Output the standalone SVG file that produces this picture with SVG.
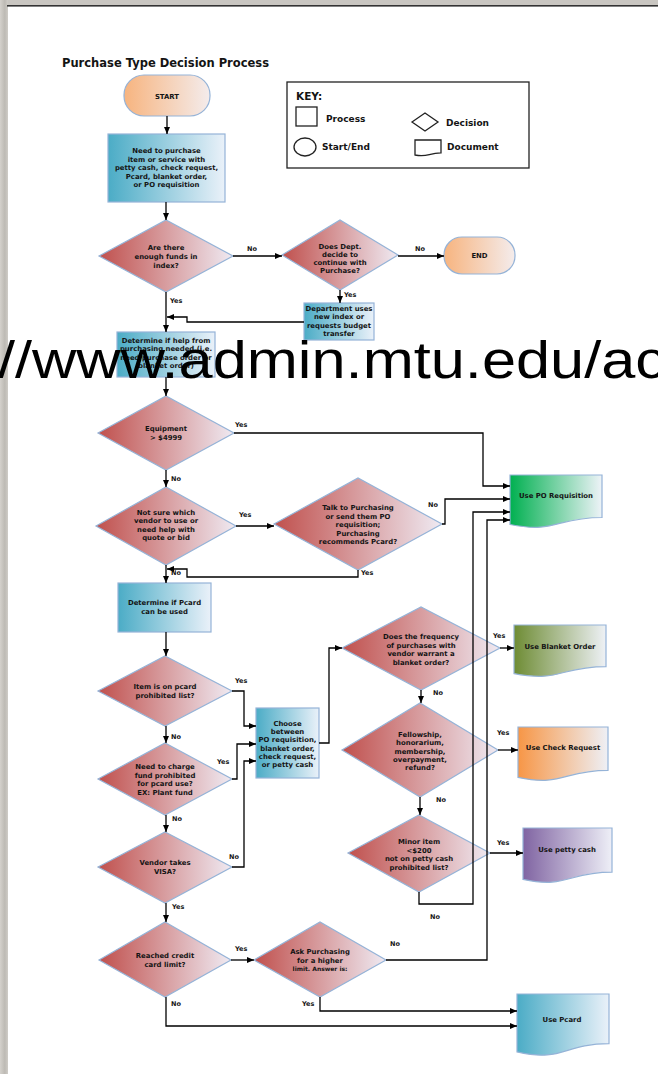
<svg xmlns="http://www.w3.org/2000/svg" width="658" height="1074" viewBox="0 0 658 1074">
<defs>
<linearGradient id="gDia" x1="0" y1="0" x2="1" y2="0"><stop offset="0" stop-color="#c0504d"/><stop offset="1" stop-color="#efeaf2"/></linearGradient>
<linearGradient id="gProc" x1="0" y1="0" x2="1" y2="0"><stop offset="0" stop-color="#4bacc6"/><stop offset="1" stop-color="#eaf1f9"/></linearGradient>
<linearGradient id="gTerm" x1="0" y1="0" x2="1" y2="0"><stop offset="0" stop-color="#f7b47f"/><stop offset="1" stop-color="#f4ecec"/></linearGradient>
<linearGradient id="gPO" x1="0" y1="0" x2="1" y2="0"><stop offset="0" stop-color="#00b050"/><stop offset="1" stop-color="#eef3f8"/></linearGradient>
<linearGradient id="gBlank" x1="0" y1="0" x2="1" y2="0"><stop offset="0" stop-color="#6e8c34"/><stop offset="1" stop-color="#eef1f6"/></linearGradient>
<linearGradient id="gCheck" x1="0" y1="0" x2="1" y2="0"><stop offset="0" stop-color="#f79646"/><stop offset="1" stop-color="#eef0f6"/></linearGradient>
<linearGradient id="gPetty" x1="0" y1="0" x2="1" y2="0"><stop offset="0" stop-color="#8064a2"/><stop offset="1" stop-color="#eeeff7"/></linearGradient>
<linearGradient id="gEdge" x1="0" y1="0" x2="1" y2="0"><stop offset="0" stop-color="#d4d1cc"/><stop offset="0.6" stop-color="#bdbab4"/><stop offset="1" stop-color="#cfccc7"/></linearGradient>
<marker id="arr" markerUnits="userSpaceOnUse" markerWidth="7" markerHeight="6" refX="7" refY="3" orient="auto"><path d="M0,0 L7,3 L0,6 Z" fill="#000"/></marker>
</defs>
<style>
.dia{fill:url(#gDia);stroke:#95b3d7;stroke-width:1.2}
.proc{fill:url(#gProc);stroke:#95b3d7;stroke-width:1.2}
.term{fill:url(#gTerm);stroke:#95b3d7;stroke-width:1.2}
.doc{stroke:#95b3d7;stroke-width:1.2}
.t{font-family:"DejaVu Sans",Verdana,sans-serif;font-weight:bold;font-size:6.9px;fill:#141414;text-anchor:middle}
.lb{font-family:"DejaVu Sans",Verdana,sans-serif;font-weight:bold;font-size:6.5px;fill:#141414}
.k{font-family:"DejaVu Sans",Verdana,sans-serif;font-weight:bold;font-size:9px;fill:#141414}
.conn path{fill:none;stroke:#000;stroke-width:1.3;marker-end:url(#arr)}
.ico{fill:#fff;stroke:#222;stroke-width:1.3}
</style>
<rect x="0" y="0" width="658" height="1074" fill="#fff"/>
<rect x="0" y="0" width="658" height="5" fill="#c9c6c1"/>
<rect x="0" y="0" width="8" height="1074" fill="url(#gEdge)"/>
<rect x="7" y="5" width="651" height="1.6" fill="#333"/>

<text x="62" y="67" style="font-family:'DejaVu Sans',Verdana,sans-serif;font-weight:bold;font-size:11.5px;fill:#141414">Purchase Type Decision Process</text>

<g id="key">
<rect x="287" y="82" width="242" height="86" class="ico"/>
<text x="296" y="100" class="k" style="font-size:10.5px">KEY:</text>
<rect x="296" y="107" width="21" height="19" class="ico"/>
<text x="326" y="122" class="k">Process</text>
<polygon points="412,122 425,113 438,122 425,131" class="ico"/>
<text x="446" y="126" class="k">Decision</text>
<ellipse cx="305" cy="147" rx="11" ry="9" class="ico"/>
<text x="322" y="150" class="k">Start/End</text>
<path d="M415,140 H441 V152.8 C428,152.8 428,157.7 415,155 Z" class="ico"/>
<text x="447" y="150" class="k">Document</text>
</g>

<g id="start"><rect x="124" y="75" width="86" height="41" rx="20" class="term"/><text x="167" y="98.5" class="t">START</text></g>

<g id="need"><rect x="108" y="134" width="117" height="68" class="proc"/>
<text class="t" x="166.5"><tspan x="166.5" y="153">Need to purchase</tspan><tspan x="166.5" y="161.5">item or service with</tspan><tspan x="166.5" y="170">petty cash, check request,</tspan><tspan x="166.5" y="178.5">Pcard, blanket order,</tspan><tspan x="166.5" y="187">or PO requisition</tspan></text></g>

<g id="funds"><polygon points="99,256 166,220 233,256 166,292" class="dia"/>
<text class="t"><tspan x="166" y="250">Are there</tspan><tspan x="166" y="259">enough funds in</tspan><tspan x="166" y="268">index?</tspan></text></g>

<g id="continue"><polygon points="282,255 340,220 398,255 340,290" class="dia"/>
<text class="t"><tspan x="340" y="249">Does Dept.</tspan><tspan x="340" y="257">decide to</tspan><tspan x="340" y="265">continue with</tspan><tspan x="340" y="273">Purchase?</tspan></text></g>

<g id="end"><rect x="444" y="237" width="71" height="37" rx="18" class="term"/><text x="479.5" y="258" class="t">END</text></g>

<g id="dept"><rect x="304" y="303" width="70" height="37" class="proc"/>
<text class="t"><tspan x="339" y="311">Department uses</tspan><tspan x="339" y="319">new index or</tspan><tspan x="339" y="328">requests budget</tspan><tspan x="339" y="336">transfer</tspan></text></g>

<g id="help"><rect x="117" y="332" width="98" height="45" class="proc"/>
<text class="t"><tspan x="166" y="343">Determine if help from</tspan><tspan x="166" y="351">purchasing needed (i.e.</tspan><tspan x="166" y="359.5">need purchase order or</tspan><tspan x="166" y="368">blanket order)</tspan></text></g>

<g id="equip"><polygon points="98,433 166,396 234,433 166,470" class="dia"/>
<text class="t"><tspan x="166" y="431">Equipment</tspan><tspan x="166" y="440">&gt; $4999</tspan></text></g>

<g id="notsure"><polygon points="96,526 166,487 236,526 166,565" class="dia"/>
<text class="t"><tspan x="166" y="515">Not sure which</tspan><tspan x="166" y="523">vendor to use or</tspan><tspan x="166" y="531.5">need help with</tspan><tspan x="166" y="540">quote or bid</tspan></text></g>

<g id="talk"><polygon points="274,524 358,478 442,524 358,570" class="dia"/>
<text class="t"><tspan x="358" y="510">Talk to Purchasing</tspan><tspan x="358" y="518.5">or send them PO</tspan><tspan x="358" y="527">requisition;</tspan><tspan x="358" y="535.5">Purchasing</tspan><tspan x="358" y="544">recommends Pcard?</tspan></text></g>

<g id="usepo"><path d="M510,475 H602 V517.5 C556,517.5 556,533.7 510,524.5 Z" class="doc" fill="url(#gPO)"/><text x="556" y="497.5" class="t">Use PO Requisition</text></g>

<g id="pcardq"><rect x="118" y="583" width="93" height="49" class="proc"/>
<text class="t"><tspan x="164.5" y="605">Determine if Pcard</tspan><tspan x="164.5" y="614">can be used</tspan></text></g>

<g id="item"><polygon points="98,691 165,656 232,691 165,726" class="dia"/>
<text class="t"><tspan x="165" y="689">Item is on pcard</tspan><tspan x="165" y="697.5">prohibited list?</tspan></text></g>

<g id="charge"><polygon points="98,779 165,743 232,779 165,815" class="dia"/>
<text class="t"><tspan x="165" y="769">Need to charge</tspan><tspan x="165" y="777.5">fund prohibited</tspan><tspan x="165" y="786">for pcard use?</tspan><tspan x="165" y="794.5">EX: Plant fund</tspan></text></g>

<g id="visa"><polygon points="98,867 165,832 232,867 165,903" class="dia"/>
<text class="t"><tspan x="165" y="865">Vendor takes</tspan><tspan x="165" y="873.5">VISA?</tspan></text></g>

<g id="choose"><rect x="256" y="708" width="63" height="70" class="proc"/>
<text class="t"><tspan x="287.5" y="726">Choose</tspan><tspan x="287.5" y="734">between</tspan><tspan x="287.5" y="742">PO requisition,</tspan><tspan x="287.5" y="750.5">blanket order,</tspan><tspan x="287.5" y="758.5">check request,</tspan><tspan x="287.5" y="767">or petty cash</tspan></text></g>

<g id="freq"><polygon points="342,648 421,607 500,648 421,690" class="dia"/>
<text class="t"><tspan x="421" y="639">Does the frequency</tspan><tspan x="421" y="647.5">of purchases with</tspan><tspan x="421" y="656">vendor warrant a</tspan><tspan x="421" y="664.5">blanket order?</tspan></text></g>

<g id="blanket"><path d="M514,625 H606 V666.7 C560,666.7 560,682.6 514,673.6 Z" class="doc" fill="url(#gBlank)"/><text x="560" y="648.5" class="t">Use Blanket Order</text></g>

<g id="fellow"><polygon points="342,750 420,703 498,750 420,797" class="dia"/>
<text class="t"><tspan x="420" y="737">Fellowship,</tspan><tspan x="420" y="745">honorarium,</tspan><tspan x="420" y="753.5">membership,</tspan><tspan x="420" y="762">overpayment,</tspan><tspan x="420" y="770">refund?</tspan></text></g>

<g id="check"><path d="M518,727 H608 V770.3 C563,770.3 563,786.8 518,777.4 Z" class="doc" fill="url(#gCheck)"/><text x="563" y="749.5" class="t">Use Check Request</text></g>

<g id="minor"><polygon points="348,853 419,815 490,853 419,892" class="dia"/>
<text class="t"><tspan x="419" y="844">Minor item</tspan><tspan x="419" y="852.5">&lt;$200</tspan><tspan x="419" y="861">not on petty cash</tspan><tspan x="419" y="869.5">prohibited list?</tspan></text></g>

<g id="petty"><path d="M523,828 H612 V872.1 C567.5,872.1 567.5,888.9 523,879.4 Z" class="doc" fill="url(#gPetty)"/><text x="567" y="851.5" class="t">Use petty cash</text></g>

<g id="limit"><polygon points="99,960 165,922 231,960 165,997" class="dia"/>
<text class="t"><tspan x="165" y="958">Reached credit</tspan><tspan x="165" y="967">card limit?</tspan></text></g>

<g id="ask"><polygon points="254,960 320,922 386,960 320,997" class="dia"/>
<text class="t"><tspan x="320" y="954">Ask Purchasing</tspan><tspan x="320" y="963">for a higher</tspan><tspan x="320" y="971" style="font-size:6px">limit. Answer is:</tspan></text></g>

<g id="pcard"><path d="M517,994 H609 V1043.7 C563,1043.7 563,1062.6 517,1051.9 Z" class="doc" fill="url(#gProc)"/><text x="562" y="1022" class="t">Use Pcard</text></g>

<g id="connectors" class="conn">
<path d="M167,116 V134"/>
<path d="M166,202 V220"/>
<path d="M233,256 H282"/>
<path d="M398,256 H444"/>
<path d="M340,290 V303"/>
<path d="M304,322 H187 V317 H167"/>
<path d="M166,292 V332"/>
<path d="M166,377 V396"/>
<path d="M234,433 H483 V486 H510"/>
<path d="M166,470 V487"/>
<path d="M236,526 H274"/>
<path d="M442,524 H445 V499 H510"/>
<path d="M358,570 V577 H187 V569 H167"/>
<path d="M166,565 V583"/>
<path d="M166,632 V656"/>
<path d="M232,691 H244 V726 H256"/>
<path d="M166,726 V743"/>
<path d="M232,779 H237 V744 H256"/>
<path d="M166,815 V832"/>
<path d="M232,867 H244 V761 H256"/>
<path d="M166,903 V922"/>
<path d="M231,960 H254"/>
<path d="M166,997 V1026 H517"/>
<path d="M320,997 V1011 H517"/>
<path d="M386,960 H487 V520 H510"/>
<path d="M319,743 H329 V648 H342"/>
<path d="M500,648 H514"/>
<path d="M421,690 V703"/>
<path d="M498,750 H518"/>
<path d="M420,797 V815"/>
<path d="M490,853 H523"/>
<path d="M419,892 V904 H473 V512 H510"/>
</g>

<g id="labels">
<text x="247" y="251" class="lb">No</text>
<text x="415" y="251" class="lb">No</text>
<text x="344" y="297" class="lb">Yes</text>
<text x="170" y="303" class="lb">Yes</text>
<text x="235" y="427" class="lb">Yes</text>
<text x="171" y="481" class="lb">No</text>
<text x="239" y="517" class="lb">Yes</text>
<text x="428" y="507" class="lb">No</text>
<text x="171" y="575" class="lb">No</text>
<text x="361" y="575" class="lb">Yes</text>
<text x="235" y="683" class="lb">Yes</text>
<text x="171" y="739" class="lb">No</text>
<text x="217" y="764" class="lb">Yes</text>
<text x="172" y="821" class="lb">No</text>
<text x="229" y="859" class="lb">No</text>
<text x="172" y="909" class="lb">Yes</text>
<text x="235" y="951" class="lb">Yes</text>
<text x="390" y="946" class="lb">No</text>
<text x="171" y="1006" class="lb">No</text>
<text x="302" y="1006" class="lb">Yes</text>
<text x="493" y="638" class="lb">Yes</text>
<text x="433" y="695" class="lb">No</text>
<text x="497" y="735" class="lb">Yes</text>
<text x="436" y="802" class="lb">No</text>
<text x="497" y="845" class="lb">Yes</text>
<text x="430" y="919" class="lb">No</text>
</g>

<text x="-2" y="378" textLength="668" lengthAdjust="spacingAndGlyphs" style="font-family:'Liberation Sans',Arial,sans-serif;font-size:51px;fill:#000">//www.admin.mtu.edu/ac</text>
</svg>
